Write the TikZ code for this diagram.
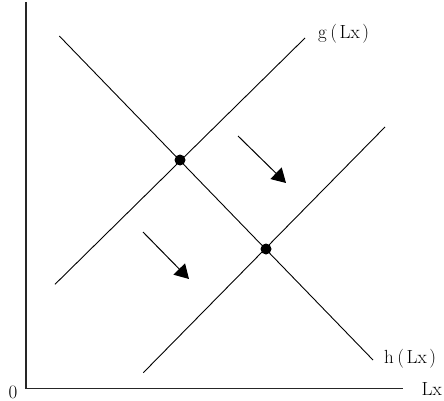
\documentclass[tikz,border=0pt]{standalone}
\usepackage{fontspec}
\setmainfont{Latin Modern Roman}
\usetikzlibrary{arrows.meta}
\begin{document}
\begin{tikzpicture}[x=1pt,y=-1pt,
  curve/.style={line width=0.9pt},
  axis/.style={line width=1.1pt, black!85},
  movearrow/.style={line width=1pt,-{Triangle[length=14pt,width=16pt]}},
  dot/.style={circle,fill=black,inner sep=0pt,minimum size=11pt},
  lbl/.style={inner sep=0pt,font=\fontsize{19}{22}\selectfont}]
\useasboundingbox (0,0) rectangle (444,401);
% axes
\coordinate (ytop) at (26,2);
\coordinate (orig) at (26,388.5);
\coordinate (xend) at (403,388.5);
\draw[axis] (ytop) -- (orig) -- (xend);
% curves
\coordinate (d1) at (59.3,36);
\coordinate (d2) at (373,360);
\coordinate (g1) at (55,284.3);
\coordinate (g2) at (305,38);
\coordinate (h1) at (143.3,372.7);
\coordinate (h2) at (385,127);
\draw[curve] (d1) -- (d2);
\draw[curve] (g1) -- (g2);
\draw[curve] (h1) -- (h2);
% equilibria
\node[dot] (e1) at (180,160) {};
\node[dot] (e2) at (266,249) {};
% shift arrows
\coordinate (a1s) at (238,136);
\coordinate (a1e) at (286,183);
\coordinate (a2s) at (143,232);
\coordinate (a2e) at (189,279);
\draw[movearrow] (a1s) -- (a1e);
\draw[movearrow] (a2s) -- (a2e);
% labels
\node[lbl,anchor=base west] (gl) at (318,38.3) {g\kern3.5pt(\kern2.5ptLx\kern2.5pt)};
\node[lbl,anchor=base west] (hl) at (384,363.3) {h\kern3.5pt(\kern2.5ptLx\kern2.5pt)};
\node[lbl,anchor=base west] (xl) at (421.5,395.7) {Lx};
\node[lbl,anchor=base] (zero) at (13,398) {0};
\end{tikzpicture}
\end{document}
